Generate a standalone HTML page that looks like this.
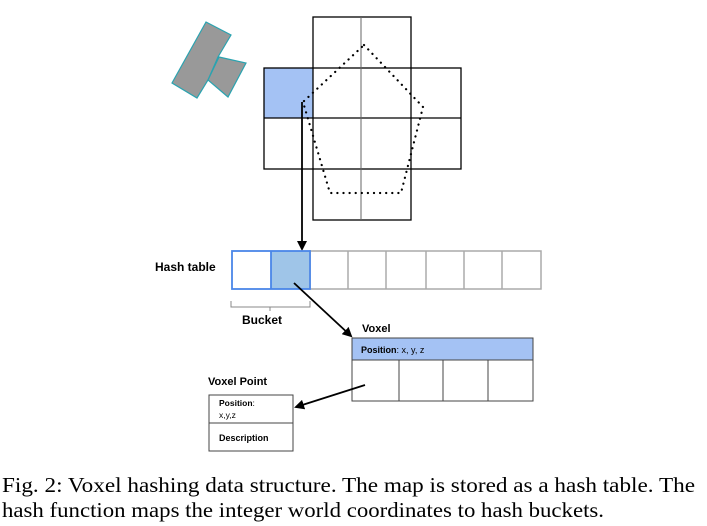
<!DOCTYPE html>
<html><head><style>
html,body{margin:0;padding:0;background:#fff;}
svg{display:block;}
.s{font-family:"Liberation Sans",sans-serif;font-weight:bold;fill:#000;}
</style></head><body>
<svg width="707" height="526" viewBox="0 0 707 526" xmlns="http://www.w3.org/2000/svg">
<defs><marker id="ah" markerWidth="10" markerHeight="10" refX="8" refY="5" orient="auto" markerUnits="userSpaceOnUse"><path d="M0,0 L10,5 L0,10 z" fill="#000"/></marker></defs>
<!-- gray shapes -->
<polygon points="206,22 231,35 218,57 208,80 197,98 172,83" fill="#999" stroke="#2aa3b0" stroke-width="1.2"/>
<polygon points="219,57 246,63 228,97 208,80" fill="#999" stroke="#2aa3b0" stroke-width="1.2"/>
<!-- grid -->
<rect x="264" y="68" width="49" height="50" fill="#a4c2f4"/>
<g stroke="#000" stroke-width="1.3" fill="none">
<rect x="313" y="17" width="98" height="203"/>
<rect x="264" y="68" width="197" height="101"/>
<line x1="264" y1="118" x2="461" y2="118"/>
</g>
<line x1="361" y1="17" x2="361" y2="220" stroke="#666" stroke-width="1"/>
<polygon points="364,45 423,107 401,193 330,193 303,102" fill="none" stroke="#000" stroke-width="2.2" stroke-dasharray="0.1,6" stroke-linecap="round"/>
<line x1="302" y1="102" x2="302" y2="249" stroke="#000" stroke-width="1.8" marker-end="url(#ah)"/>
<!-- hash table -->
<text x="155" y="271" class="s" font-size="12">Hash table</text>
<rect x="271" y="251" width="38" height="38" fill="#9fc5e8"/>
<g stroke="#aaa" stroke-width="1.5" fill="none">
<rect x="310" y="251" width="231" height="38"/>
<line x1="348" y1="251" x2="348" y2="289"/><line x1="386" y1="251" x2="386" y2="289"/>
<line x1="426" y1="251" x2="426" y2="289"/><line x1="464" y1="251" x2="464" y2="289"/>
<line x1="502" y1="251" x2="502" y2="289"/>
</g>
<g stroke="#4a86e8" stroke-width="1.8" fill="none">
<rect x="232" y="251" width="78" height="38"/>
<line x1="271" y1="251" x2="271" y2="289"/>
</g>
<path d="M231,301 V307 H310 V301 M270,307 V311" fill="none" stroke="#888" stroke-width="1"/>
<text x="242" y="324" class="s" font-size="12">Bucket</text>
<line x1="294" y1="283" x2="351" y2="336" stroke="#000" stroke-width="1.8" marker-end="url(#ah)"/>
<!-- voxel -->
<text x="362" y="332" class="s" font-size="11">Voxel</text>
<rect x="352" y="338" width="181" height="22" fill="#a4c2f4" stroke="#444" stroke-width="1"/>
<text x="361" y="353" class="s" font-size="9">Position<tspan font-weight="normal">: x, y, z</tspan></text>
<g stroke="#444" stroke-width="1" fill="none">
<rect x="352" y="360" width="181" height="41"/>
<line x1="399" y1="360" x2="399" y2="401"/><line x1="443" y1="360" x2="443" y2="401"/><line x1="488" y1="360" x2="488" y2="401"/>
</g>
<line x1="365" y1="385" x2="296" y2="407" stroke="#000" stroke-width="1.8" marker-end="url(#ah)"/>
<!-- voxel point -->
<text x="208" y="385" class="s" font-size="11">Voxel Point</text>
<g stroke="#444" stroke-width="1" fill="none">
<rect x="209" y="395" width="84" height="56"/>
<line x1="209" y1="423" x2="293" y2="423"/>
</g>
<text x="219" y="406" class="s" font-size="8.5">Position<tspan font-weight="normal">:</tspan></text>
<text x="219" y="418" font-family="Liberation Sans,sans-serif" font-size="8.5">x,y,z</text>
<text x="219" y="441" class="s" font-size="9">Description</text>
<!-- caption -->
<text x="2" y="492" font-family="Liberation Serif,serif" font-size="21" textLength="693" lengthAdjust="spacingAndGlyphs">Fig. 2: Voxel hashing data structure. The map is stored as a hash table. The</text>
<text x="2" y="517" font-family="Liberation Serif,serif" font-size="21" textLength="602" lengthAdjust="spacingAndGlyphs">hash function maps the integer world coordinates to hash buckets.</text>
</svg>
</body></html>
